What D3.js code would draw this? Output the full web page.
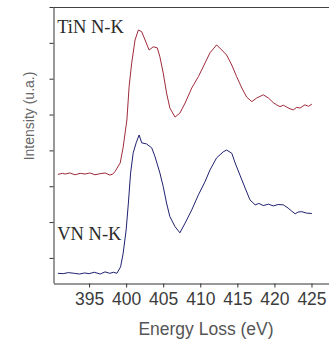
<!DOCTYPE html>
<html lang="en">
<head>
  <meta charset="utf-8">
  <title>N-K edge EELS – TiN / VN</title>
  <style>
    html,body { margin:0; padding:0; background:#fff; overflow:hidden; }
    svg { display:block; }
    .axis path, .axis line { stroke:#333; }
    .axis text { font-family:"Liberation Sans", Arial, sans-serif; fill:#3c3c3c; }
  </style>
  <script src="https://d3js.org/d3.v7.min.js"></script>
</head>
<body>
<svg width="329" height="340"></svg>
<script>
// ---- data ----
const tinEnergy = [390.8, 391.4, 391.75, 392.4, 393.1, 393.8, 394.45, 395.1, 395.8, 396.5, 397.15, 397.8, 398.2, 398.5,
  399.2, 399.6, 400.1, 400.4, 400.75, 401.2, 401.65, 402.1, 402.55, 403.1, 403.65, 404.2, 404.55, 405.0, 405.45,
  405.9, 406.6, 407.25, 407.95, 408.85, 409.75, 410.65, 411.3, 412.2, 412.9, 413.55, 414.25, 414.9, 415.6, 416.25,
  416.95, 417.6, 418.5, 419.2, 419.85, 420.3, 420.75, 421.2, 421.65, 422.1, 422.55, 423.0, 423.45, 424.1, 424.6, 425.05];
const tinIntensity = [3.03, 3.06, 3.04, 3.07, 3.02, 3.06, 3.04, 3.07, 3.02, 3.05, 3.07, 3.01, 3.04, 3.11,
  3.35, 3.79, 4.55, 5.48, 6.14, 6.78, 7.06, 7.01, 6.78, 6.50, 6.59, 6.56, 6.31, 5.86, 5.30,
  4.88, 4.63, 4.74, 5.02, 5.44, 5.76, 6.14, 6.42, 6.64, 6.50, 6.36, 6.08, 5.76, 5.44, 5.19,
  5.06, 5.16, 5.25, 5.16, 5.03, 4.97, 4.92, 4.96, 4.91, 4.86, 4.83, 4.90, 4.88, 4.97, 4.93, 4.99];

const vnEnergy = [390.8, 391.5, 392.2, 393.0, 393.7, 394.4, 395.0, 395.7, 396.5, 397.15, 397.8, 398.3, 398.75,
  399.25, 399.6, 400.0, 400.3, 400.6, 400.95, 401.35, 401.75, 402.1, 402.75, 403.45, 403.9, 404.55, 405.0,
  405.45, 405.9, 406.6, 407.25, 407.95, 408.85, 409.75, 410.65, 411.3, 412.2, 413.1, 413.55, 414.25, 414.7,
  415.35, 416.05, 416.7, 417.4, 417.9, 418.5, 419.2, 419.85, 420.5, 421.2, 421.85, 422.3, 422.8, 423.2, 423.7, 424.3, 425.05];
const vnIntensity = [0.27, 0.26, 0.29, 0.27, 0.25, 0.28, 0.26, 0.30, 0.25, 0.31, 0.27, 0.30, 0.27,
  0.45, 0.83, 1.48, 2.23, 3.07, 3.63, 3.91, 4.13, 3.91, 3.88, 3.77, 3.52, 3.07, 2.69,
  2.23, 1.85, 1.57, 1.40, 1.67, 2.04, 2.46, 2.83, 3.15, 3.49, 3.66, 3.71, 3.62, 3.35,
  3.01, 2.65, 2.32, 2.18, 2.22, 2.16, 2.20, 2.15, 2.19, 2.18, 2.09, 2.01, 1.93, 1.98, 1.99, 1.95, 1.94];

const xTicks = [395, 400, 405, 410, 415, 420, 425];
const yTicks = [0.7, 1.7, 2.7, 3.7, 4.7, 5.7, 6.7, 7.7];

const series = [
  { label: "TiN N-K", color: "#a02a3c", x: tinEnergy, y: tinIntensity, labelY: 6.98 },
  { label: "VN N-K",  color: "#202070", x: vnEnergy,  y: vnIntensity,  labelY: 1.2 }
];

// ---- layout ----
const svg = d3.select("svg");
const padLeft = 53.5, padTop = 7, padBottom = 283;

const x = d3.scaleLinear().domain([390.2, 427.7]).range([padLeft, 331.5]);
const y = d3.scaleLinear().domain([0, 7.7]).range([padBottom, padTop]);

// top border of the frame
svg.append("line")
  .attr("x1", padLeft).attr("x2", 329).attr("y1", padTop + 0.5).attr("y2", padTop + 0.5)
  .attr("stroke", "#444");

const xAxis = svg.append("g")
  .attr("class", "axis")
  .attr("transform", `translate(0,${padBottom + 0.5})`)
  .call(d3.axisBottom(x).tickValues(xTicks).tickSize(4).tickPadding(5.5).tickSizeOuter(0));
xAxis.selectAll("text").style("font-size", "17.5px");

svg.append("g")
  .attr("class", "axis")
  .attr("transform", `translate(${padLeft},0)`)
  .call(d3.axisLeft(y).tickValues(yTicks).tickSize(4).tickFormat("").tickSizeOuter(0));

// curves + labels
const line = d3.line().x(d => x(d[0])).y(d => y(d[1]));
series.forEach(s => {
  const pts = s.x.map((e, i) => [e, s.y[i]]);
  svg.append("path")
    .datum(pts)
    .attr("fill", "none")
    .attr("stroke", s.color)
    .attr("stroke-width", 1)
    .attr("stroke-linejoin", "round")
    .attr("d", line);

  svg.append("text")
    .attr("x", x(390.7))
    .attr("y", y(s.labelY))
    .attr("font-family", "'Liberation Serif', 'Times New Roman', serif")
    .attr("font-size", 18.5)
    .attr("fill", "#2a2a2a")
    .text(s.label);
});

// axis titles
svg.append("text")
  .attr("x", 206).attr("y", 335)
  .attr("text-anchor", "middle")
  .attr("font-family", "'Liberation Sans', Arial, sans-serif")
  .attr("font-size", 17.5)
  .attr("fill", "#555")
  .text("Energy Loss (eV)");

svg.append("text")
  .attr("transform", "translate(34,116) rotate(-90)")
  .attr("text-anchor", "middle")
  .attr("font-family", "'Liberation Sans', Arial, sans-serif")
  .attr("font-size", 14)
  .attr("fill", "#666")
  .text("Intensity (u.a.)");
</script>
</body>
</html>
